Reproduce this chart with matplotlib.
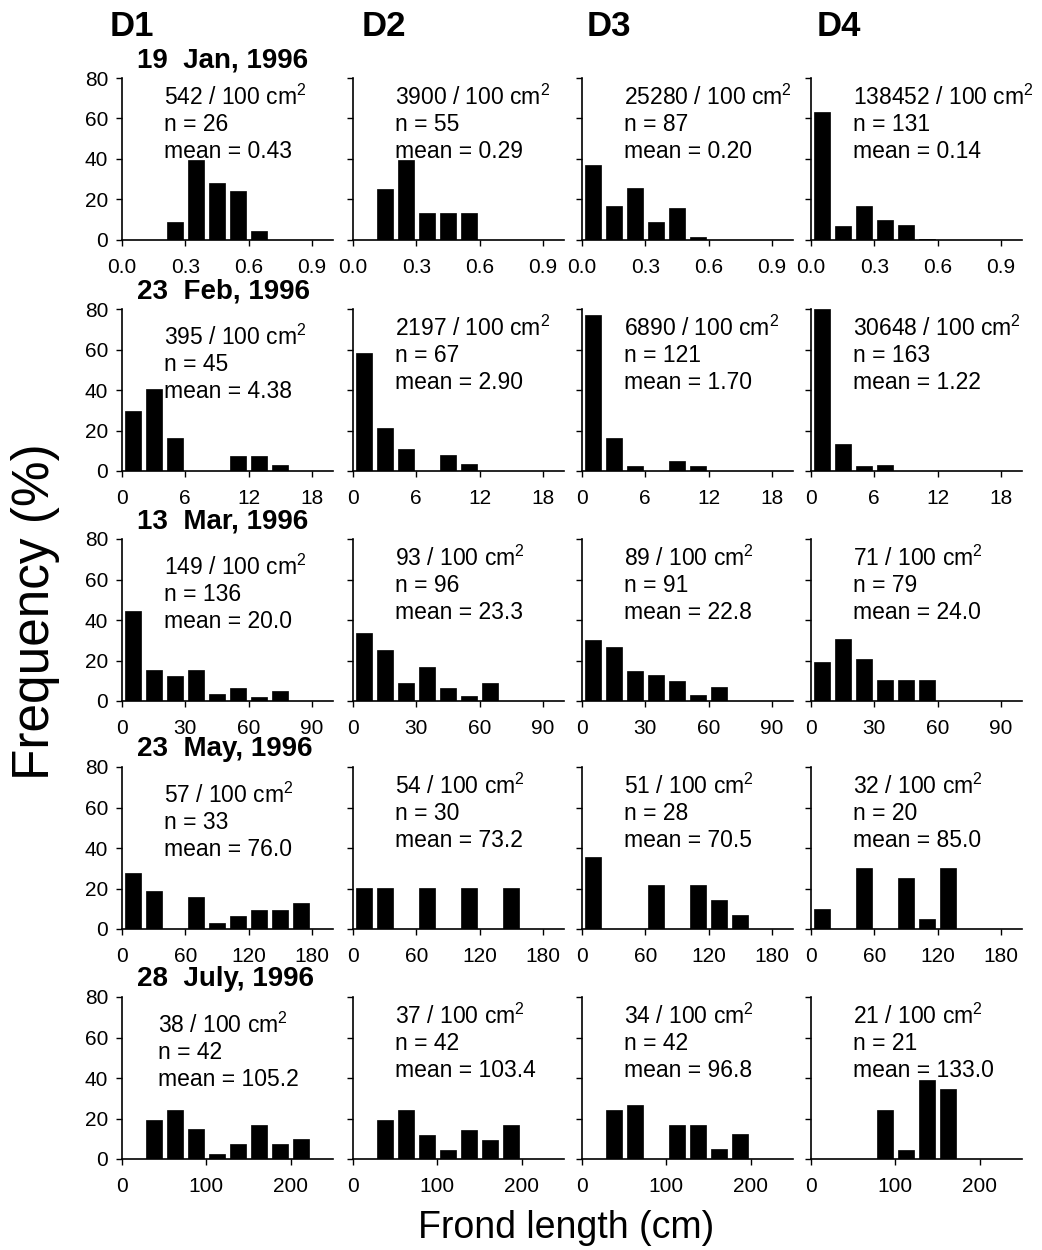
import numpy as np
import matplotlib.pyplot as plt

plt.rcParams['font.family'] = ['Liberation Sans', 'DejaVu Sans']
plt.rcParams['mathtext.fontset'] = 'custom'
plt.rcParams['mathtext.rm'] = 'Liberation Sans'
plt.rcParams['mathtext.it'] = 'Liberation Sans:italic'

sites = ['D1', 'D2', 'D3', 'D4']
dates = ['19  Jan, 1996', '23  Feb, 1996', '13  Mar, 1996', '23  May, 1996', '28  July, 1996']

# bin width per sampling date (10 bins each)
bin_width = [0.1, 2, 10, 20, 25]
xticks = [[0, 0.3, 0.6, 0.9], [0, 6, 12, 18], [0, 30, 60, 90], [0, 60, 120, 180], [0, 100, 200]]
xticklabels = [['0.0', '0.3', '0.6', '0.9'], ['0', '6', '12', '18'], ['0', '30', '60', '90'],
               ['0', '60', '120', '180'], ['0', '100', '200']]

# frequency (%) per bin, one list per site D1..D4
freq_jan = [[0, 0, 9, 39.5, 28, 24, 4.5, 0, 0, 0],
            [0, 25, 39.5, 13.5, 13.5, 13.5, 0, 0, 0, 0],
            [37, 17, 25.5, 9, 16, 1.7, 0, 0, 0, 0],
            [63, 6.7, 16.7, 10, 7.2, 0.3, 0, 0, 0, 0]]
freq_feb = [[29.4, 40.3, 16.3, 0, 0, 7.3, 7.3, 3.1, 0, 0],
            [58.2, 21.3, 10.7, 0, 7.8, 3.4, 0, 0, 0, 0],
            [77, 16.3, 2.3, 0, 4.9, 2.3, 0, 0, 0, 0],
            [80, 13.3, 2.3, 3.1, 0, 0, 0, 0, 0, 0]]
freq_mar = [[44.4, 15.2, 12.3, 15.2, 3.4, 6.2, 2.1, 5.1, 0, 0],
            [33.8, 25.4, 8.7, 16.9, 6.6, 2.5, 8.7, 0, 0, 0],
            [30.2, 26.9, 14.9, 12.6, 9.7, 2.8, 6.9, 0, 0, 0],
            [19.3, 30.7, 20.5, 10.5, 10.5, 10.5, 0, 0, 0, 0]]
freq_may = [[27.9, 18.9, 0, 15.7, 3.1, 6.4, 9.3, 9.3, 12.6, 0],
            [20.3, 20.3, 0, 20.3, 0, 20.3, 0, 20.3, 0, 0],
            [35.7, 0, 0, 21.6, 0, 21.6, 14.4, 7.0, 0, 0],
            [10, 0, 30, 0, 25, 5, 30.3, 0, 0, 0]]
freq_jul = [[0, 19.5, 24.4, 14.6, 2.5, 7.2, 17, 7.2, 9.7, 0],
            [0, 19.2, 24.1, 12, 4.6, 14.3, 9.5, 16.7, 0, 0],
            [0, 24.4, 26.9, 0, 17, 17, 4.9, 12.3, 0, 0],
            [0, 0, 0, 24.1, 4.6, 38.9, 34.4, 0, 0, 0]]
freqs = [freq_jan, freq_feb, freq_mar, freq_may, freq_jul]

density = [['542', '3900', '25280', '138452'],
           ['395', '2197', '6890', '30648'],
           ['149', '93', '89', '71'],
           ['57', '54', '51', '32'],
           ['38', '37', '34', '21']]
n_fronds = [['26', '55', '87', '131'],
            ['45', '67', '121', '163'],
            ['136', '96', '91', '79'],
            ['33', '30', '28', '20'],
            ['42', '42', '42', '21']]
means = [['0.43', '0.29', '0.20', '0.14'],
         ['4.38', '2.90', '1.70', '1.22'],
         ['20.0', '23.3', '22.8', '24.0'],
         ['76.0', '73.2', '70.5', '85.0'],
         ['105.2', '103.4', '96.8', '133.0']]

W, H = 1042, 1250
fig = plt.figure(figsize=(W / 100, H / 100), dpi=100)

col_left = [122, 353, 582, 811]
row_bottom = [240, 471, 701, 929, 1159]
ax_w, ax_h = 211, 162

for r in range(5):
    bw = bin_width[r]
    centers = (np.arange(10) + 0.5) * bw
    for c in range(4):
        ax = fig.add_axes([col_left[c] / W, 1 - row_bottom[r] / H, ax_w / W, ax_h / H])
        ax.bar(centers, freqs[r][c], width=0.76 * bw, color='black', edgecolor='black', linewidth=0.5)
        ax.set_xlim(0, 10 * bw)
        ax.set_ylim(0, 80)
        ax.set_yticks([0, 20, 40, 60, 80])
        ax.set_xticks(xticks[r])
        ax.set_xticklabels(xticklabels[r])
        for s in ['top', 'right']:
            ax.spines[s].set_visible(False)
        for s in ['left', 'bottom']:
            ax.spines[s].set_linewidth(1.2)
        ax.tick_params(axis='x', length=4, width=1, labelsize=15, pad=9)
        ax.tick_params(axis='y', length=4, width=1, labelsize=15, pad=6)
        if c > 0:
            ax.tick_params(axis='y', labelleft=False)

        # text block
        if c == 0 and r > 0:
            y0 = 0.78
        else:
            y0 = 0.835
        xt = 0.2 if not (c == 0 and r == 4) else 0.17
        dy = 0.165
        ax.text(xt, y0, density[r][c] + ' / 100 cm$^{2}$', transform=ax.transAxes,
                fontsize=16.5, va='baseline', ha='left')
        ax.text(xt, y0 - dy, 'n = ' + n_fronds[r][c], transform=ax.transAxes,
                fontsize=16.5, va='baseline', ha='left')
        ax.text(xt, y0 - 2 * dy, 'mean = ' + means[r][c], transform=ax.transAxes,
                fontsize=16.5, va='baseline', ha='left')

        if c == 0:
            ax.text(0.07, 1.11, dates[r], transform=ax.transAxes, fontsize=20,
                    fontweight='bold', va='center', ha='left')

header_x = [110, 362, 587, 817]
for c in range(4):
    fig.text(header_x[c] / W, 1 - 26 / H, sites[c], fontsize=25, fontweight='bold',
             va='center', ha='left')

fig.text(36 / W, 1 - 612 / H, 'Frequency (%)', rotation=90, fontsize=37,
         va='center', ha='center')
fig.text(566 / W, 1 - 1228 / H, 'Frond length (cm)', fontsize=27,
         va='center', ha='center')

fig.savefig('out.png', dpi=100)
